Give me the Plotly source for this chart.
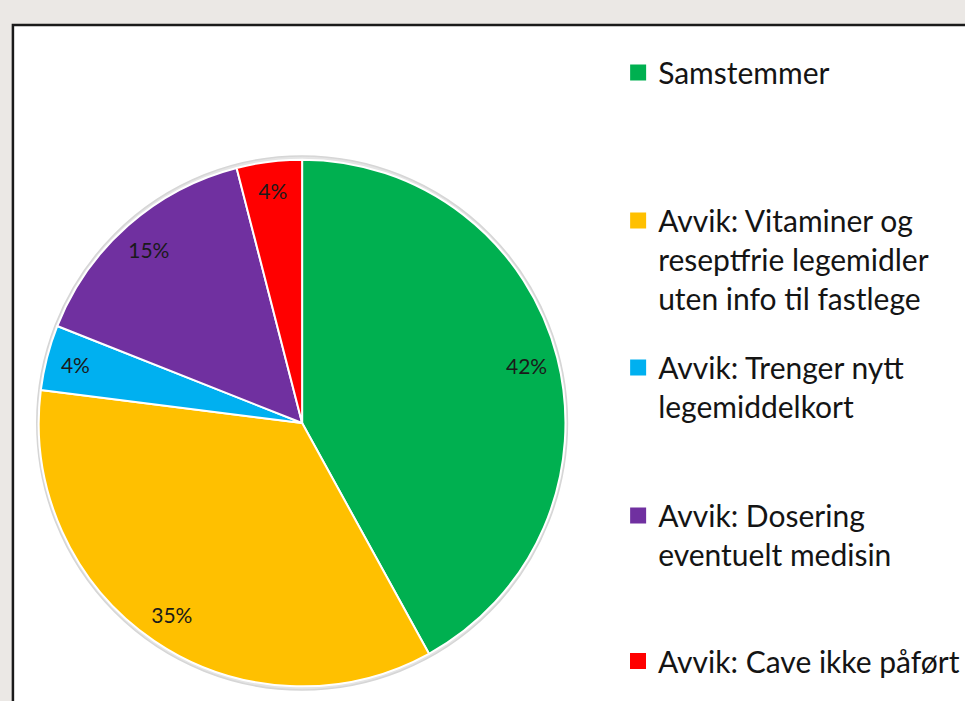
import plotly.graph_objects as go

# ---- data ----
categories = [
    "Samstemmer",
    "Avvik: Vitaminer og<br>reseptfrie legemidler<br>uten info til fastlege",
    "Avvik: Trenger nytt<br>legemiddelkort",
    "Avvik: Dosering<br>eventuelt medisin",
    "Avvik: Cave ikke påført",
]
values = [42, 35, 4, 15, 4]
colors = ["#00B050", "#FFC000", "#00B0F0", "#7030A0", "#FF0000"]

W, H = 965, 701
FONT = "Lato"

# pie geometry (pixels)
cx, cy, R = 304, 423, 265
dom_x = [(cx - R) / W, (cx + R) / W]
dom_y = [(H - (cy + R)) / H, (H - (cy - R)) / H]

fig = go.Figure()

# main pie (colored slices)
fig.add_trace(go.Pie(
    labels=categories, values=values, sort=False, direction="clockwise", rotation=0,
    marker=dict(colors=colors, line=dict(color="white", width=2)),
    textinfo="none", hoverinfo="label+percent", showlegend=False,
    domain=dict(x=dom_x, y=dom_y),
))

# label ring (transparent) so percentages sit near the outer edge
fig.add_trace(go.Pie(
    labels=categories, values=values, sort=False, direction="clockwise", rotation=0,
    hole=0.76,
    marker=dict(colors=["rgba(0,0,0,0)"] * len(values), line=dict(width=0)),
    texttemplate="%{percent:.0%}", textposition="inside",
    insidetextorientation="horizontal",
    textfont=dict(family=FONT, size=21, color="#1a1a1a"),
    hoverinfo="skip", showlegend=False,
    domain=dict(x=dom_x, y=dom_y),
))

# legend entries (one legend per entry to reproduce the even spacing)
legend_first_line_y = [73.5, 221.5, 368.5, 516.5, 662]
for i, (lab, col) in enumerate(zip(categories, colors)):
    lname = "legend" if i == 0 else f"legend{i+1}"
    fig.add_trace(go.Scatter(
        x=[None], y=[None], mode="markers", name=lab,
        marker=dict(symbol="square", size=16, color=col),
        legend=lname, showlegend=True, hoverinfo="skip",
    ))

legend_common = dict(
    x=622 / W, xanchor="left", yanchor="top",
    bgcolor="rgba(0,0,0,0)", borderwidth=0,
    font=dict(family=FONT, size=30, color="#141414"),
    valign="top", itemclick=False, itemdoubleclick=False,
)
layout_legends = {}
for i, yy in enumerate(legend_first_line_y):
    lname = "legend" if i == 0 else f"legend{i+1}"
    layout_legends[lname] = dict(legend_common, y=(H - (yy - 27)) / H)

fig.update_layout(
    width=W, height=H,
    margin=dict(l=0, r=0, t=0, b=0),
    paper_bgcolor="#EBE8E5",
    plot_bgcolor="rgba(0,0,0,0)",
    xaxis=dict(visible=False, fixedrange=True),
    yaxis=dict(visible=False, fixedrange=True),
    shapes=[
        dict(type="rect", xref="paper", yref="paper", layer="below",
             x0=13 / W, x1=1.05, y0=-0.05, y1=(H - 25) / H,
             fillcolor="white", line=dict(color="#1a1a1a", width=2.5)),
        # soft edge around the pie
        dict(type="circle", xref="paper", yref="paper", layer="below",
             x0=(cx - R - 2) / W, x1=(cx + R + 2) / W,
             y0=(H - (cy + R + 2)) / H, y1=(H - (cy - R - 2)) / H,
             fillcolor="#e4e4e4", line=dict(color="#d6d6d6", width=1.5)),
    ],
    **layout_legends,
)

fig.write_html(
    "out.html",
    config={"displayModeBar": False},
    post_script="document.body.style.margin='0';document.body.style.overflow='hidden';",
)
